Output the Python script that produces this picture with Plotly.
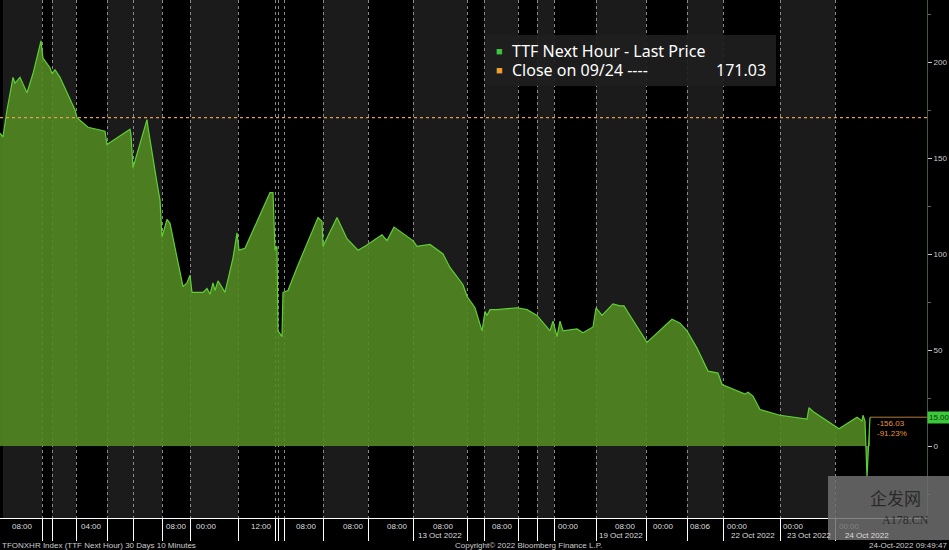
import plotly.graph_objects as go

# price series (x = position on the session time axis, y = EUR/MWh)
t = [0, 3, 7, 13, 15, 20, 27, 33, 41, 43, 50, 52, 55, 60, 75, 77, 88, 97, 105, 107,
     130, 131, 133, 147, 148, 157, 160, 162, 167, 170, 183, 187, 190, 192, 203, 207,
     210, 213, 215, 218, 225, 233, 237, 239, 245, 270, 273, 275, 277, 278, 282, 283,
     288, 297, 318, 322, 323, 337, 347, 358, 365, 382, 387, 394, 413, 417, 430, 443,
     450, 463, 467, 475, 482, 485, 487, 490, 497, 517, 527, 537, 550, 553, 557, 560,
     563, 577, 583, 593, 596, 602, 613, 620, 624, 630, 640, 647, 672, 680, 687, 697,
     708, 718, 722, 745, 748, 753, 760, 780, 807, 809, 813, 837, 839, 857, 862, 863,
     865, 867, 870]
price = [163, 161, 175, 192, 189, 192, 184, 194, 211, 202, 197, 194, 196, 192, 175, 171,
         166, 165, 164, 157, 165, 162, 145, 170, 166, 137, 128, 109, 118, 116, 83, 85,
         89, 80, 80, 82, 79, 85, 81, 86, 80, 98, 111, 102, 103, 132, 132, 102, 104, 60,
         57, 80, 81, 93, 119, 117, 104, 119, 108, 102, 104, 110, 107, 114, 107, 104, 105,
         100, 93, 84, 78, 72, 60, 70, 68, 71, 71, 72, 71, 68, 60, 65, 57, 65, 60, 61, 59,
         62, 72, 68, 74, 73, 73, 68, 60, 54, 66, 64, 60, 51, 39, 38, 32, 27, 28, 26, 19,
         16, 14, 20, 18, 10, 9, 15, 13, 16, 13, -16, 15.00]
close_0924 = 171.03

# trading-session shading and boundaries
gray_bands = [(3, 42), (52, 76), (107, 162), (190, 238), (323, 368), (413, 467),
              (484, 518), (537, 554), (596, 646), (687, 723), (780, 835)]
boundaries = [42, 52, 76, 107, 133, 162, 190, 238, 275, 278, 284, 323, 368, 413, 467,
              484, 518, 537, 554, 596, 646, 687, 723, 780, 835]

# x tick labels
tick_pos = [22, 91, 176, 206, 261, 306, 353, 397, 443, 502, 568, 625, 663, 700, 737,
            793, 849]
tick_txt = ["08:00", "04:00", "08:00", "00:00", "12:00", "08:00", "08:00", "08:00",
            "08:00", "08:00", "00:00", "08:00", "00:00", "08:06", "00:00", "00:00",
            "00:00"]
date_pos = [440, 621, 729, 785, 843]
date_txt = ["13 Oct 2022", "19 Oct 2022", "22 Oct 2022", "23 Oct 2022", "24 Oct 2022"]
date_anchor = ["center", "center", "left", "left", "left"]

X_END = 927
GREEN = "#5fcf36"
ORANGE = "#e8953a"
FONT = "Liberation Sans, Arial, sans-serif"

fig = go.Figure()
fig.add_trace(go.Scatter(x=t, y=price, mode="lines", fill="tozeroy",
    fillcolor="rgba(82,136,34,0.9)", line=dict(color=GREEN, width=1.2),
    showlegend=False, hoverinfo="skip"))
last = price[-1]
fig.add_trace(go.Scatter(x=[t[-1], X_END], y=[last, last], mode="lines",
    line=dict(color="#b07a3c", width=1), showlegend=False, hoverinfo="skip"))

shapes = []
for a, b in gray_bands:
    shapes.append(dict(type="rect", xref="x", yref="paper", x0=a, x1=b, y0=0, y1=1,
                       fillcolor="#1b1b1b", line_width=0, layer="below"))
shapes.append(dict(type="line", xref="paper", yref="y", x0=0, x1=1,
                   y0=close_0924, y1=close_0924,
                   line=dict(color="#e0a050", width=1.2, dash="dot")))
# legend box
shapes.append(dict(type="rect", xref="paper", yref="paper", x0=486 / 927, x1=776 / 927,
                   y0=1 - 86 / 518, y1=1 - 35 / 518, fillcolor="rgba(30,30,30,0.92)",
                   line_width=0))
# watermark box
shapes.append(dict(type="rect", xref="paper", yref="paper", x0=828 / 927, x1=949 / 927,
                   y0=1 - 540 / 518, y1=1 - 476 / 518,
                   fillcolor="#6e6e6e", opacity=0.85, line_width=0))

ann = []
for p, s, anc in zip(date_pos, date_txt, date_anchor):
    ann.append(dict(x=p, y=0, xref="x", yref="paper", text=s, showarrow=False,
                    xanchor=anc, yanchor="top", yshift=-11,
                    font=dict(size=8, color="#dddddd", family=FONT)))
leg_font = dict(size=16, color="#ffffff", family="Noto Sans, Open Sans, sans-serif")
ann += [
    dict(x=494 / 927, y=1 - 51 / 518, text="■", font=dict(size=11, color="#3fc43f"),
         xanchor="left"),
    dict(x=510 / 927, y=1 - 51 / 518, text="TTF Next Hour - Last Price", font=leg_font,
         xanchor="left"),
    dict(x=494 / 927, y=1 - 70 / 518, text="■", font=dict(size=11, color="#f0a030"),
         xanchor="left"),
    dict(x=510 / 927, y=1 - 70 / 518, text="Close on 09/24 ----", font=leg_font,
         xanchor="left"),
    dict(x=768 / 927, y=1 - 70 / 518, text=f"{close_0924:.2f}", font=leg_font,
         xanchor="right"),
]
for a in ann[-5:]:
    a.update(xref="paper", yref="paper", showarrow=False, yanchor="middle")

chg = last - close_0924
foot = dict(size=8, color="#cccccc", family=FONT)
ann += [
    dict(x=1, y=last, xref="paper", yref="y", text=f"{last:.2f}", showarrow=False,
         xanchor="left", yanchor="middle", bgcolor="#3cc83c", borderpad=1,
         font=dict(size=8, color="#0a3a0a", family=FONT)),
    dict(x=t[-1] + 5, y=last, xref="x", yref="y", text=f"{chg:.2f}<br>{chg / close_0924 * 100:.2f}%",
         showarrow=False, xanchor="left", yanchor="top", align="left",
         font=dict(size=8, color=ORANGE, family=FONT)),
    dict(x=0, y=1 - 545 / 518, xref="paper", yref="paper", showarrow=False,
         text="TFONXHR Index (TTF Next Hour) 30 Days 10 Minutes", xanchor="left",
         yanchor="middle", font=foot),
    dict(x=528 / 927, y=1 - 545 / 518, xref="paper", yref="paper", showarrow=False,
         text="Copyright© 2022 Bloomberg Finance L.P.", xanchor="center",
         yanchor="middle", font=foot),
    dict(x=949 / 927, y=1 - 545 / 518, xref="paper", yref="paper", showarrow=False,
         text="24-Oct-2022 09:49:47", xanchor="right", yanchor="middle", font=foot),
    dict(x=895 / 927, y=1 - 497 / 518, xref="paper", yref="paper", showarrow=False,
         text="企发网", xanchor="center", yanchor="middle",
         font=dict(size=17, color="#2a2a2a", family="Noto Sans CJK SC")),
    dict(x=905 / 927, y=1 - 520 / 518, xref="paper", yref="paper", showarrow=False,
         text="A178.CN", xanchor="center", yanchor="middle",
         font=dict(size=12, color="#2a2a2a", family="Liberation Serif")),
]

fig.update_layout(
    width=949, height=550,
    paper_bgcolor="#000000", plot_bgcolor="#000000",
    margin=dict(l=0, r=22, t=0, b=32),
    font=dict(family=FONT, color="#dddddd", size=8),
    shapes=shapes, annotations=ann,
    xaxis=dict(range=[0, X_END], showgrid=False, zeroline=False,
               tickmode="array", tickvals=tick_pos, ticktext=tick_txt,
               ticks="", ticklen=0,
               tickfont=dict(size=8, color="#dddddd"),
               showline=True, linecolor="#ffffff", linewidth=1,
               minor=dict(tickmode="array", tickvals=boundaries, ticks="outside",
                          ticklen=22, tickcolor="#ffffff", showgrid=True,
                          gridcolor="#8a8a8a", griddash="3px,3px", gridwidth=1)),
    yaxis=dict(range=[-37.5, 232.3], side="right", showgrid=False, zeroline=False,
               tickvals=[0, 50, 100, 150, 200], ticks="outside", ticklen=4,
               tickcolor="#cccccc", tickfont=dict(size=8, color="#cccccc"),
               showline=True, linecolor="#3b5b48", linewidth=1,
               minor=dict(dtick=25, ticks="outside", ticklen=3, tickcolor="#666666")),
)

fig.write_html("out.html", config={"displayModeBar": False},
               post_script="document.body.style.margin='0';")
